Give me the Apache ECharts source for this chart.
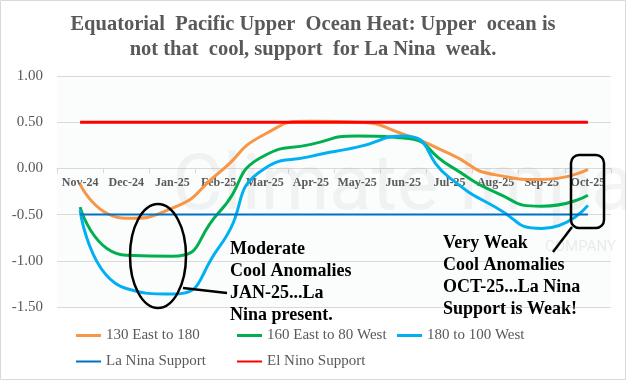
<!DOCTYPE html>
<html><head><meta charset="utf-8">
<script src="https://cdn.jsdelivr.net/npm/echarts@6/dist/echarts.min.js"></script>
<style>html,body{margin:0;padding:0;background:#fff}#c{width:626px;height:380px}</style>
</head><body><div id="c"></div>
<script>
const categories = ['Nov-24','Dec-24','Jan-25','Feb-25','Mar-25','Apr-25','May-25','Jun-25','Jul-25','Aug-25','Sep-25','Oct-25'];
const east130to180 = [-0.17,-0.54,-0.43,-0.05,0.37,0.51,0.50,0.37,0.16,-0.07,-0.12,-0.01];
const east160toW80 = [-0.42,-0.94,-0.95,-0.48,0.14,0.26,0.35,0.33,0.03,-0.26,-0.41,-0.29];
const w180toW100 = [-0.45,-1.30,-1.36,-0.86,0.00,0.13,0.23,0.35,-0.10,-0.42,-0.65,-0.40];
const laNinaSupport = categories.map(() => -0.5);
const elNinoSupport = categories.map(() => 0.5);
const yTicks = { min: -1.5, max: 1.0, interval: 0.5 };
const titleText = 'Equatorial  Pacific Upper  Ocean Heat: Upper  ocean is\nnot that  cool, support  for La Nina  weak.';
const noteLeft = 'Moderate\nCool Anomalies\nJAN-25...La\nNina present.';
const noteRight = 'Very Weak\nCool Anomalies\nOCT-25...La Nina\nSupport is Weak!';

const serif = 'Liberation Serif, Times New Roman, serif';
const grey = '#595959';
const gridTop = 76, gridBottom = 73, H = 380;
const plotH = H - gridTop - gridBottom;
const zeroFromBottom = plotH * (0 - yTicks.min) / (yTicks.max - yTicks.min);

const chart = echarts.init(document.getElementById('c'), null, {renderer:'canvas'});

function legendAt(name, left, top, h){
  return {data:[name], left:left, top:top, itemWidth:25, itemHeight:h, icon:'rect', padding:0,
    textStyle:{fontFamily:serif, fontSize:15, color:grey}};
}
function lineSeries(name, data, color, width, z){
  return {name:name, type:'line', data:data, smooth:0.6, symbol:'none', showSymbol:false,
    lineStyle:{color:color, width:width}, itemStyle:{color:color}, z:z};
}

chart.setOption({
  backgroundColor:'#ffffff',
  animation:false,
  title:{text:titleText, left:'center', top:12, padding:0,
    textStyle:{fontFamily:serif, fontWeight:'bold', fontSize:20.5, color:grey, lineHeight:25}},
  grid:{left:57, right:15, top:gridTop, bottom:gridBottom, show:true, backgroundColor:'#FBFCFC', borderWidth:0},
  legend:[
    legendAt('130 East to 180', 76, 328, 3),
    legendAt('160 East to 80 West', 237, 328, 3),
    legendAt('180 to 100 West', 397, 328, 3),
    legendAt('La Nina Support', 76, 354, 2),
    legendAt('El Nino Support', 237, 354, 2)
  ],
  xAxis:{type:'category', data:categories, boundaryGap:true, offset:-zeroFromBottom,
    axisLine:{onZero:false, lineStyle:{color:'#D9D9D9', width:1}},
    axisTick:{show:true, interval:0, length:5, lineStyle:{color:'#D9D9D9'}},
    axisLabel:{interval:0, margin:9, fontFamily:serif, fontWeight:'bold', fontSize:12, color:grey},
    splitLine:{show:false}},
  yAxis:{type:'value', min:yTicks.min, max:yTicks.max, interval:yTicks.interval,
    axisLine:{show:false}, axisTick:{show:false},
    axisLabel:{fontFamily:serif, fontSize:15, color:grey, margin:14, formatter:v=>v.toFixed(2)},
    splitLine:{lineStyle:{color:'#D9D9D9', width:1}}},
  series:[
    lineSeries('130 East to 180', east130to180, '#F79646', 3, 3),
    lineSeries('160 East to 80 West', east160toW80, '#00B050', 3, 3),
    lineSeries('180 to 100 West', w180toW100, '#00B0F0', 3, 3),
    lineSeries('La Nina Support', laNinaSupport, '#0070C0', 2, 4),
    lineSeries('El Nino Support', elNinoSupport, '#FF0000', 3, 4)
  ],
  graphic:[
    {type:'rect', shape:{x:0.5, y:0.5, width:625, height:379}, style:{fill:'none', stroke:'#D9D9D9', lineWidth:1}, z:0, silent:true},
    {type:'text', x:172, y:150, z:1, silent:true, style:{text:'Climate Impact', font:'78px Roboto, sans-serif', fill:'rgba(110,110,110,0.08)'}},
    {type:'text', x:545, y:240, z:1, silent:true, style:{text:'COMPANY', font:'15px Roboto, sans-serif', fill:'rgba(110,110,110,0.12)'}},
    {type:'ellipse', shape:{cx:158, cy:256, rx:28, ry:52}, style:{fill:'none', stroke:'#000', lineWidth:2.5}, z:100},
    {type:'line', shape:{x1:183, y1:288, x2:227, y2:293}, style:{stroke:'#000', lineWidth:2.5}, z:100},
    {type:'rect', shape:{x:571, y:155, width:33, height:73, r:8}, style:{fill:'none', stroke:'#000', lineWidth:2.5}, z:100},
    {type:'line', shape:{x1:572, y1:227, x2:553, y2:252}, style:{stroke:'#000', lineWidth:2.5}, z:100},
    {type:'text', x:230, y:238, z:100, style:{text:noteLeft, font:'bold 18px '+serif, fill:'#000', lineHeight:22}},
    {type:'text', x:443, y:232, z:100, style:{text:noteRight, font:'bold 18px '+serif, fill:'#000', lineHeight:22}}
  ]
});
</script></body></html>
